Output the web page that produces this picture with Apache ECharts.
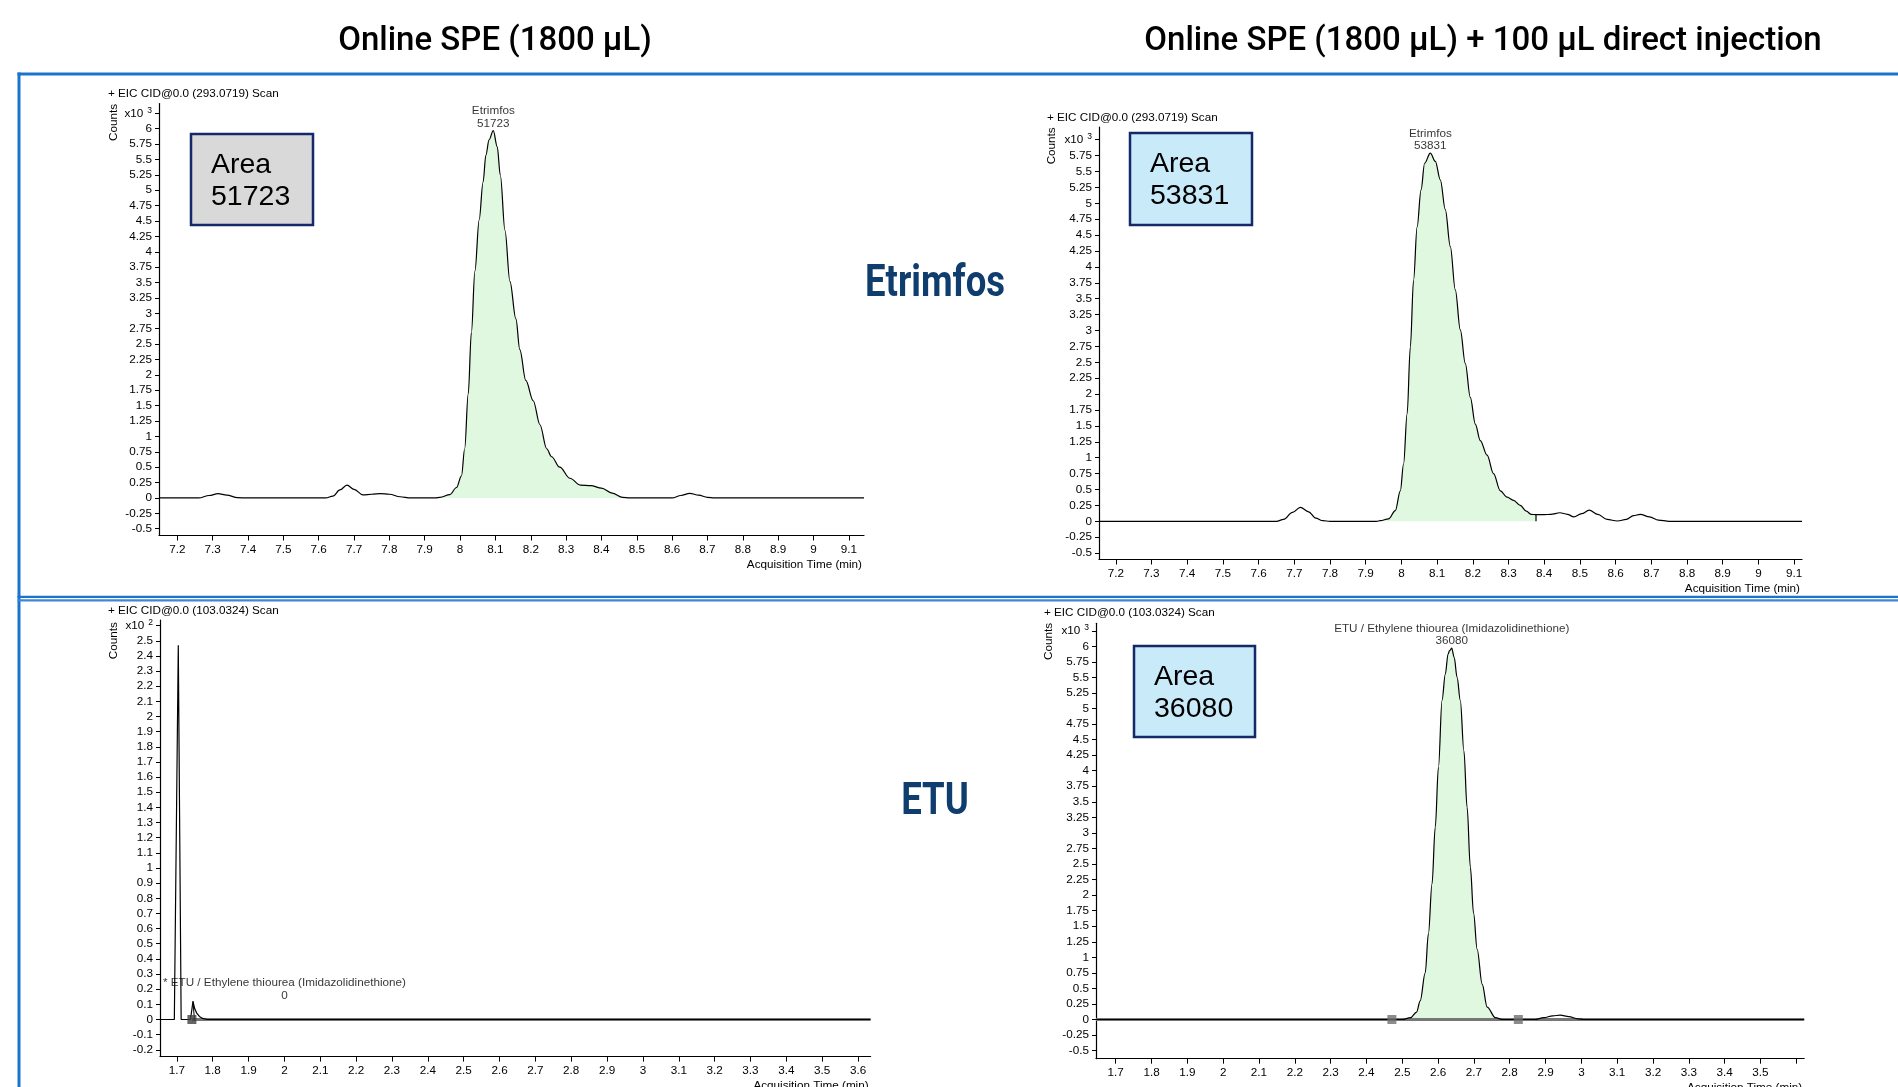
<!DOCTYPE html>
<html><head><meta charset="utf-8">
<script src="https://cdn.jsdelivr.net/npm/echarts@6/dist/echarts.min.js"></script>
<style>html,body{margin:0;padding:0;background:#fff;overflow:hidden}#c{width:1898px;height:1087px}</style>
</head><body><div id="c"></div>
<script>
// ---------------- DATA ----------------
const columnTitles = ['Online SPE (1800 µL)', 'Online SPE (1800 µL) + 100 µL direct injection'];
const compoundNames = ['Etrimfos', 'ETU'];
const scanLabels = ['+ EIC CID@0.0 (293.0719) Scan', '+ EIC CID@0.0 (293.0719) Scan',
                    '+ EIC CID@0.0 (103.0324) Scan', '+ EIC CID@0.0 (103.0324) Scan'];
const boxAreas = [51723, 53831, null, 36080];
const peakNames = ['Etrimfos', 'Etrimfos', '* ETU / Ethylene thiourea (Imidazolidinethione)', 'ETU / Ethylene thiourea (Imidazolidinethione)'];
const peakAreas = [51723, 53831, 0, 36080];
const peakLabelAt = [[8.094, 5.97], [8.081, 5.79], [2.0, 0.11], [2.638, 5.97]];
const axisExponent = [3, 3, 2, 3];

// Etrimfos, online SPE (x: min, y: x10^3 counts)
const etrimfosSpe = [[7.148,0],[7.26,0],[7.29,0.04],[7.315,0.07],[7.34,0.045],[7.37,0.005],[7.40,0],[7.62,0],[7.64,0.03],[7.66,0.13],[7.68,0.21],[7.70,0.14],[7.725,0.05],[7.75,0.06],[7.775,0.07],[7.80,0.06],[7.83,0.02],[7.86,0],[7.93,0],[7.943,0.01],[7.971,0.055],[7.99,0.17],[8.004,0.36],[8.013,0.80],[8.023,1.69],[8.032,2.69],[8.042,3.69],[8.054,4.52],[8.065,5.13],[8.073,5.57],[8.082,5.82],[8.094,5.97],[8.105,5.71],[8.114,5.24],[8.127,4.35],[8.141,3.52],[8.158,2.91],[8.169,2.41],[8.186,1.91],[8.207,1.58],[8.226,1.19],[8.245,0.80],[8.259,0.67],[8.282,0.50],[8.311,0.32],[8.34,0.21],[8.37,0.20],[8.40,0.16],[8.43,0.08],[8.46,0.01],[8.48,0],[8.60,0],[8.625,0.04],[8.65,0.075],[8.675,0.045],[8.70,0.01],[8.72,0],[9.143,0]];
// Etrimfos, online SPE + direct injection
const etrimfosDirect = [[7.153,0],[7.65,0],[7.67,0.03],[7.695,0.14],[7.717,0.22],[7.74,0.15],[7.76,0.05],[7.78,0.01],[7.80,0],[7.93,0],[7.941,0.01],[7.964,0.04],[7.983,0.17],[7.997,0.48],[8.006,0.90],[8.016,1.69],[8.025,2.74],[8.034,3.79],[8.044,4.63],[8.055,5.21],[8.065,5.63],[8.081,5.79],[8.095,5.66],[8.109,5.37],[8.123,4.90],[8.137,4.32],[8.151,3.64],[8.165,3.01],[8.179,2.48],[8.193,1.95],[8.207,1.53],[8.221,1.27],[8.24,1.04],[8.258,0.75],[8.277,0.48],[8.296,0.38],[8.314,0.33],[8.333,0.25],[8.35,0.16],[8.363,0.11],[8.377,0.105],[8.40,0.105],[8.418,0.11],[8.444,0.135],[8.465,0.11],[8.483,0.07],[8.505,0.12],[8.526,0.175],[8.55,0.11],[8.576,0.03],[8.605,0.005],[8.63,0.03],[8.65,0.09],[8.669,0.11],[8.695,0.07],[8.72,0.02],[8.75,0],[9.122,0]];
// ETU, online SPE (x10^2 counts)
const etuSpe = [[1.653,0],[1.693,0],[1.704,2.47],[1.712,0],[1.738,0],[1.745,0.12],[1.75,0.07],[1.756,0.04],[1.763,0.02],[1.772,0.007],[1.785,0],[3.635,0]];
// ETU, online SPE + direct injection (x10^3 counts)
const etuDirect = [[1.645,0],[2.50,0],[2.523,0.03],[2.54,0.12],[2.55,0.30],[2.564,0.75],[2.573,1.38],[2.583,2.18],[2.592,3.09],[2.601,4.06],[2.611,5.13],[2.62,5.55],[2.628,5.88],[2.632,5.93],[2.638,5.97],[2.645,5.82],[2.653,5.50],[2.662,5.13],[2.672,4.32],[2.681,3.41],[2.69,2.45],[2.699,1.71],[2.709,1.13],[2.723,0.57],[2.737,0.20],[2.76,0.03],[2.78,0],[2.87,0],[2.895,0.03],[2.92,0.06],[2.941,0.07],[2.965,0.045],[2.99,0.01],[3.006,0],[3.622,0]];

const integratedRange = [[7.93, 8.48], [7.93, 8.377], null, [2.50, 2.78]];
const integrationMarkers = [[], [], [[1.742, 0]], [[2.471, 0], [2.824, 0]]];

// tick labels
const etrimfosTimeTicks = [7.2,7.3,7.4,7.5,7.6,7.7,7.8,7.9,8,8.1,8.2,8.3,8.4,8.5,8.6,8.7,8.8,8.9,9,9.1];
const etuTimeTicks = [1.7,1.8,1.9,2,2.1,2.2,2.3,2.4,2.5,2.6,2.7,2.8,2.9,3,3.1,3.2,3.3,3.4,3.5,3.6];
const etuDirectTimeLabels = [1.7,1.8,1.9,2,2.1,2.2,2.3,2.4,2.5,2.6,2.7,2.8,2.9,3,3.1,3.2,3.3,3.4,3.5];
const countTicksQuarter = [-0.5,-0.25,0,0.25,0.5,0.75,1,1.25,1.5,1.75,2,2.25,2.5,2.75,3,3.25,3.5,3.75,4,4.25,4.5,4.75,5,5.25,5.5,5.75,6,6.25];
const countTicksQuarterTo6 = [-0.5,-0.25,0,0.25,0.5,0.75,1,1.25,1.5,1.75,2,2.25,2.5,2.75,3,3.25,3.5,3.75,4,4.25,4.5,4.75,5,5.25,5.5,5.75,6];
const countTicksTenth = [-0.2,-0.1,0,0.1,0.2,0.3,0.4,0.5,0.6,0.7,0.8,0.9,1,1.1,1.2,1.3,1.4,1.5,1.6,1.7,1.8,1.9,2,2.1,2.2,2.3,2.4,2.5,2.6];

// ---------------- LAYOUT ----------------
const FONT = 'Liberation Sans, Arial, sans-serif';
const FS = 11.7;
const panels = [
  {curve: etrimfosSpe,    left:159,  top:103.5, width:705,   height:432,   xmin:7.148, xmax:9.143, ymin:-0.61, ymax:6.41,  xTicks: etrimfosTimeTicks, xLabels: etrimfosTimeTicks, yTicks: countTicksQuarter,    grayBase:null},
  {curve: etrimfosDirect, left:1099, top:127,   width:703,   height:432.5, xmin:7.153, xmax:9.122, ymin:-0.6,  ymax:6.2,   xTicks: etrimfosTimeTicks, xLabels: etrimfosTimeTicks, yTicks: countTicksQuarterTo6, grayBase:null},
  {curve: etuSpe,         left:160,  top:620,   width:710.6, height:436.6, xmin:1.653, xmax:3.635, ymin:-0.245, ymax:2.637, xTicks: etuTimeTicks,      xLabels: etuTimeTicks,      yTicks: countTicksTenth,      grayBase:1.742},
  {curve: etuDirect,      left:1096, top:623.3, width:708.2, height:435.4, xmin:1.645, xmax:3.622, ymin:-0.63, ymax:6.37,  xTicks: etuTimeTicks,      xLabels: etuDirectTimeLabels, yTicks: countTicksQuarter,  grayBase:1.645}
];

const grids = [], xAxes = [], yAxes = [], series = [];
panels.forEach((p, i) => {
  grids.push({left:p.left, top:p.top, width:p.width, height:p.height, containLabel:false, outerBoundsMode:'none'});
  xAxes.push({
    type:'value', gridIndex:i, min:p.xmin, max:p.xmax,
    axisLine:{show:true, onZero:false, lineStyle:{color:'#000', width:1.2}},
    axisTick:{show:true, customValues:p.xTicks, length:5, lineStyle:{color:'#000'}},
    axisLabel:{customValues:p.xLabels, fontSize:FS, color:'#000', margin:8, fontFamily:FONT},
    splitLine:{show:false},
    name:'Acquisition Time (min)', nameLocation:'end', nameGap:-2,
    nameTextStyle:{align:'right', verticalAlign:'top', padding:[23,0,0,0], fontSize:FS, color:'#000', fontFamily:FONT}
  });
  const top = p.yTicks[p.yTicks.length - 1];
  const ex = axisExponent[i];
  yAxes.push({
    type:'value', gridIndex:i, min:p.ymin, max:p.ymax,
    axisLine:{show:true, onZero:false, lineStyle:{color:'#000', width:1.2}},
    axisTick:{show:true, customValues:p.yTicks, length:4, lineStyle:{color:'#000'}},
    axisLabel:{customValues:p.yTicks, fontSize:FS, color:'#000', margin:7, fontFamily:FONT,
      formatter: v => Math.abs(v - top) < 1e-9 ? '{x|x10}{s|' + ex + '}' : String(v),
      rich:{x:{fontSize:FS, fontFamily:FONT, color:'#000', lineHeight:15}, s:{fontSize:8.5, fontFamily:FONT, color:'#000', verticalAlign:'top', padding:[0,0,0,4]}}},
    splitLine:{show:false}
  });
  const r = integratedRange[i];
  if (r) {
    let seg = p.curve.filter(d => d[0] >= r[0] - 1e-9 && d[0] <= r[1] + 1e-9);
    const last = seg[seg.length - 1];
    series.push({type:'line', xAxisIndex:i, yAxisIndex:i, data:seg.concat([[last[0], 0]]), symbol:'none',
      smooth:0.35, smoothMonotone:'x', lineStyle:{width:0, opacity:0}, areaStyle:{color:'#e0f8e0', opacity:1}, z:1, silent:true});
    if (last[1] > 0.02) {
      series.push({type:'line', xAxisIndex:i, yAxisIndex:i, data:[[last[0], last[1]], [last[0], 0]], symbol:'none',
        lineStyle:{color:'#000', width:1.2}, z:4, silent:true});
    }
  }
  if (p.grayBase !== null) {
    series.push({type:'line', xAxisIndex:i, yAxisIndex:i, data:[[p.grayBase, 0], [p.xmax, 0]], symbol:'none',
      lineStyle:{color:'#777', width:3}, z:2, silent:true});
  }
  const isSpike = (i === 2);
  series.push({type:'line', xAxisIndex:i, yAxisIndex:i, data:p.curve, symbol:'none',
    smooth: isSpike ? false : 0.35, smoothMonotone:'x', lineStyle:{color:'#000', width:1.2}, z:3, silent:true});
  if (isSpike) {
    const apex = p.curve.find(d => d[0] === 1.745);
    series.push({type:'line', xAxisIndex:i, yAxisIndex:i, data:[[apex[0], apex[1]], [apex[0] + 0.004, 0]], symbol:'none',
      lineStyle:{color:'#000', width:1}, z:3, silent:true});
  }
  if (integrationMarkers[i].length) {
    series.push({type:'scatter', xAxisIndex:i, yAxisIndex:i, data:integrationMarkers[i], symbol:'rect', symbolSize:9,
      itemStyle:{color: i === 2 ? '#3f3f3f' : '#6f6f6f'}, z:5, silent:true});
  }
  series.push({type:'scatter', xAxisIndex:i, yAxisIndex:i, data:[peakLabelAt[i]], symbolSize:1,
    itemStyle:{color:'rgba(0,0,0,0)'}, z:6, silent:true,
    label:{show:true, position:'top', distance:0.5, formatter: peakNames[i] + '\n' + peakAreas[i], fontSize:FS, lineHeight:12.5,
      color:'#000', fontFamily:FONT, align:'center'}});
});

// ---------------- GRAPHIC (titles, frame, annotations) ----------------
const BLUE = '#1a74cb';
const g = [];
g.push({type:'rect', shape:{x:17.5, y:72.5, width:1882, height:3}, style:{fill:BLUE}, silent:true});
g.push({type:'rect', shape:{x:17.5, y:72.5, width:3, height:1016}, style:{fill:BLUE}, silent:true});
g.push({type:'rect', shape:{x:17.5, y:595.8, width:1882, height:2.2}, style:{fill:BLUE}, silent:true});
g.push({type:'rect', shape:{x:17.5, y:599.3, width:1882, height:2.2}, style:{fill:'#3a88d6'}, silent:true});
function txt(t, x, y, font, align, va, extra) {
  return Object.assign({type:'text', x:x, y:y, silent:true,
    style:{text:t, font:font, fill:'#000', align:align, verticalAlign:va, textAlign:align, textVerticalAlign:va}}, extra || {});
}
g.push(txt(columnTitles[0], 495, 41.3, '500 33px Roboto', 'center', 'middle'));
g.push(txt(columnTitles[1], 1483, 41.3, '500 33px Roboto', 'center', 'middle'));
const scanPos = [[108,94],[1047,117.5],[108,611],[1044,612.5]];
const countsPos = [[113.3,122.5],[1051.7,145.8],[113.3,640.7],[1048.4,641.5]];
scanLabels.forEach((s, i) => {
  g.push(txt(s, scanPos[i][0], scanPos[i][1], FS + 'px ' + FONT, 'left', 'middle'));
  g.push(txt('Counts', countsPos[i][0], countsPos[i][1], FS + 'px ' + FONT, 'center', 'middle', {rotation: Math.PI / 2}));
});
const boxes = [
  {x:191, y:134, w:122, h:91, fill:'#d9d9d9', tx:211, ty:181.5},
  {x:1130, y:133, w:122, h:92, fill:'#c9eaf8', tx:1150, ty:180},
  null,
  {x:1134, y:646, w:121, h:91, fill:'#c9eaf8', tx:1154, ty:693}
];
boxes.forEach((b, i) => {
  if (!b) return;
  g.push({type:'rect', shape:{x:b.x, y:b.y, width:b.w, height:b.h}, style:{fill:b.fill, stroke:'#14286a', lineWidth:2.5}, silent:true});
  g.push({type:'text', x:b.tx, y:b.ty, silent:true,
    style:{text:'Area\n' + boxAreas[i], font:'28.5px ' + FONT, fill:'#000', lineHeight:32, align:'left', verticalAlign:'middle', textAlign:'left', textVerticalAlign:'middle'}});
});
g.push(txt(compoundNames[0], 935, 284.6, 'bold 44px Roboto', 'center', 'middle', {scaleX:0.83}));
g.push(txt(compoundNames[1], 935, 802.6, 'bold 44px Roboto', 'center', 'middle', {scaleX:0.83}));
g.forEach(e => { if (e.type === 'text' && (e.style.text === compoundNames[0] || e.style.text === compoundNames[1])) e.style.fill = '#0f3d6e'; });

const chart = echarts.init(document.getElementById('c'), null, {renderer:'canvas'});
chart.setOption({animation:false, backgroundColor:'#fff', grid:grids, xAxis:xAxes, yAxis:yAxes, series:series, graphic:{elements:g}});
</script></body></html>
